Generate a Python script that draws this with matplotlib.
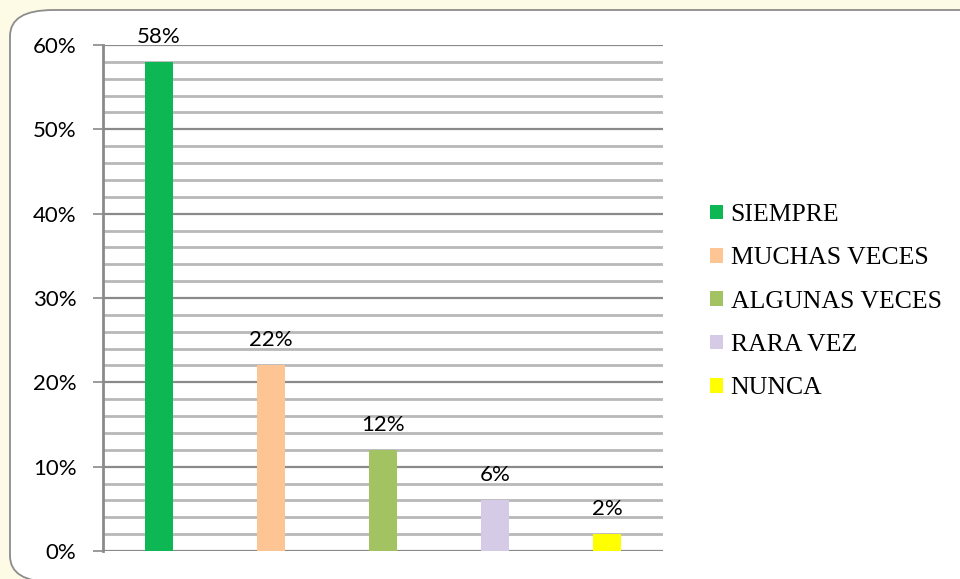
import matplotlib
matplotlib.use("Agg")
import matplotlib.pyplot as plt
from matplotlib.patches import FancyBboxPatch, Patch
import numpy as np

categories = ["SIEMPRE", "MUCHAS VECES", "ALGUNAS VECES", "RARA VEZ", "NUNCA"]
values = [58, 22, 12, 6, 2]
colors = ["#0db854", "#fdc594", "#a3c262", "#d6cbe6", "#ffff00"]
yticks = [0, 10, 20, 30, 40, 50, 60]

fig = plt.figure(figsize=(9.6, 5.79), dpi=100)
fig.patch.set_facecolor("#fdfbe6")

# rounded frame (extends past right and bottom edges)
frame = FancyBboxPatch((10/960, -3/579), 1000/960, 572/579,
                       boxstyle="round,pad=0,rounding_size=0.045",
                       transform=fig.transFigure, facecolor="white",
                       edgecolor="#8c8c8c", linewidth=1.3, zorder=-1)
fig.patches.append(frame)

ax = fig.add_axes([103/960, 1-551/579, 560/960, 506/579])
ax.set_facecolor("none")
x = np.arange(len(categories))
bars = ax.bar(x, values, width=0.25, color=colors, zorder=3)
ax.set_xlim(-0.5, len(categories) - 0.5)
ax.set_ylim(0, 60)

for v in np.arange(2, 60, 2):
    if v % 10 != 0:
        ax.axhline(v, color="#b8b8b8", linewidth=2.0, zorder=1)
for v in yticks:
    ax.axhline(v, color="#8a8a8a", linewidth=1.6, zorder=2)

ax.set_yticks(yticks)
ax.set_yticklabels([f"{t}%" for t in yticks], fontsize=16, family="Lato")
ax.set_xticks([])
ax.tick_params(axis="y", length=7, width=1.2, color="#8a8a8a", pad=12)
for s in ["top", "right", "bottom"]:
    ax.spines[s].set_visible(False)
ax.spines["left"].set_color("#8a8a8a")
ax.spines["left"].set_linewidth(2)

for xi, v in zip(x, values):
    ax.text(xi, v + 1.8, f"{v}%", ha="center", va="bottom", fontsize=16,
            family="Lato", zorder=4)

handles = [Patch(facecolor=c, edgecolor="none") for c in colors]
fig.legend(handles, categories, loc="upper left",
           bbox_to_anchor=(687/960, 1-181/579), frameon=False,
           prop={"family": "Liberation Serif", "size": 18.5},
           handlelength=0.5, handleheight=0.5, handletextpad=0.3,
           labelspacing=0.83)

fig.savefig("out.png", dpi=100)
